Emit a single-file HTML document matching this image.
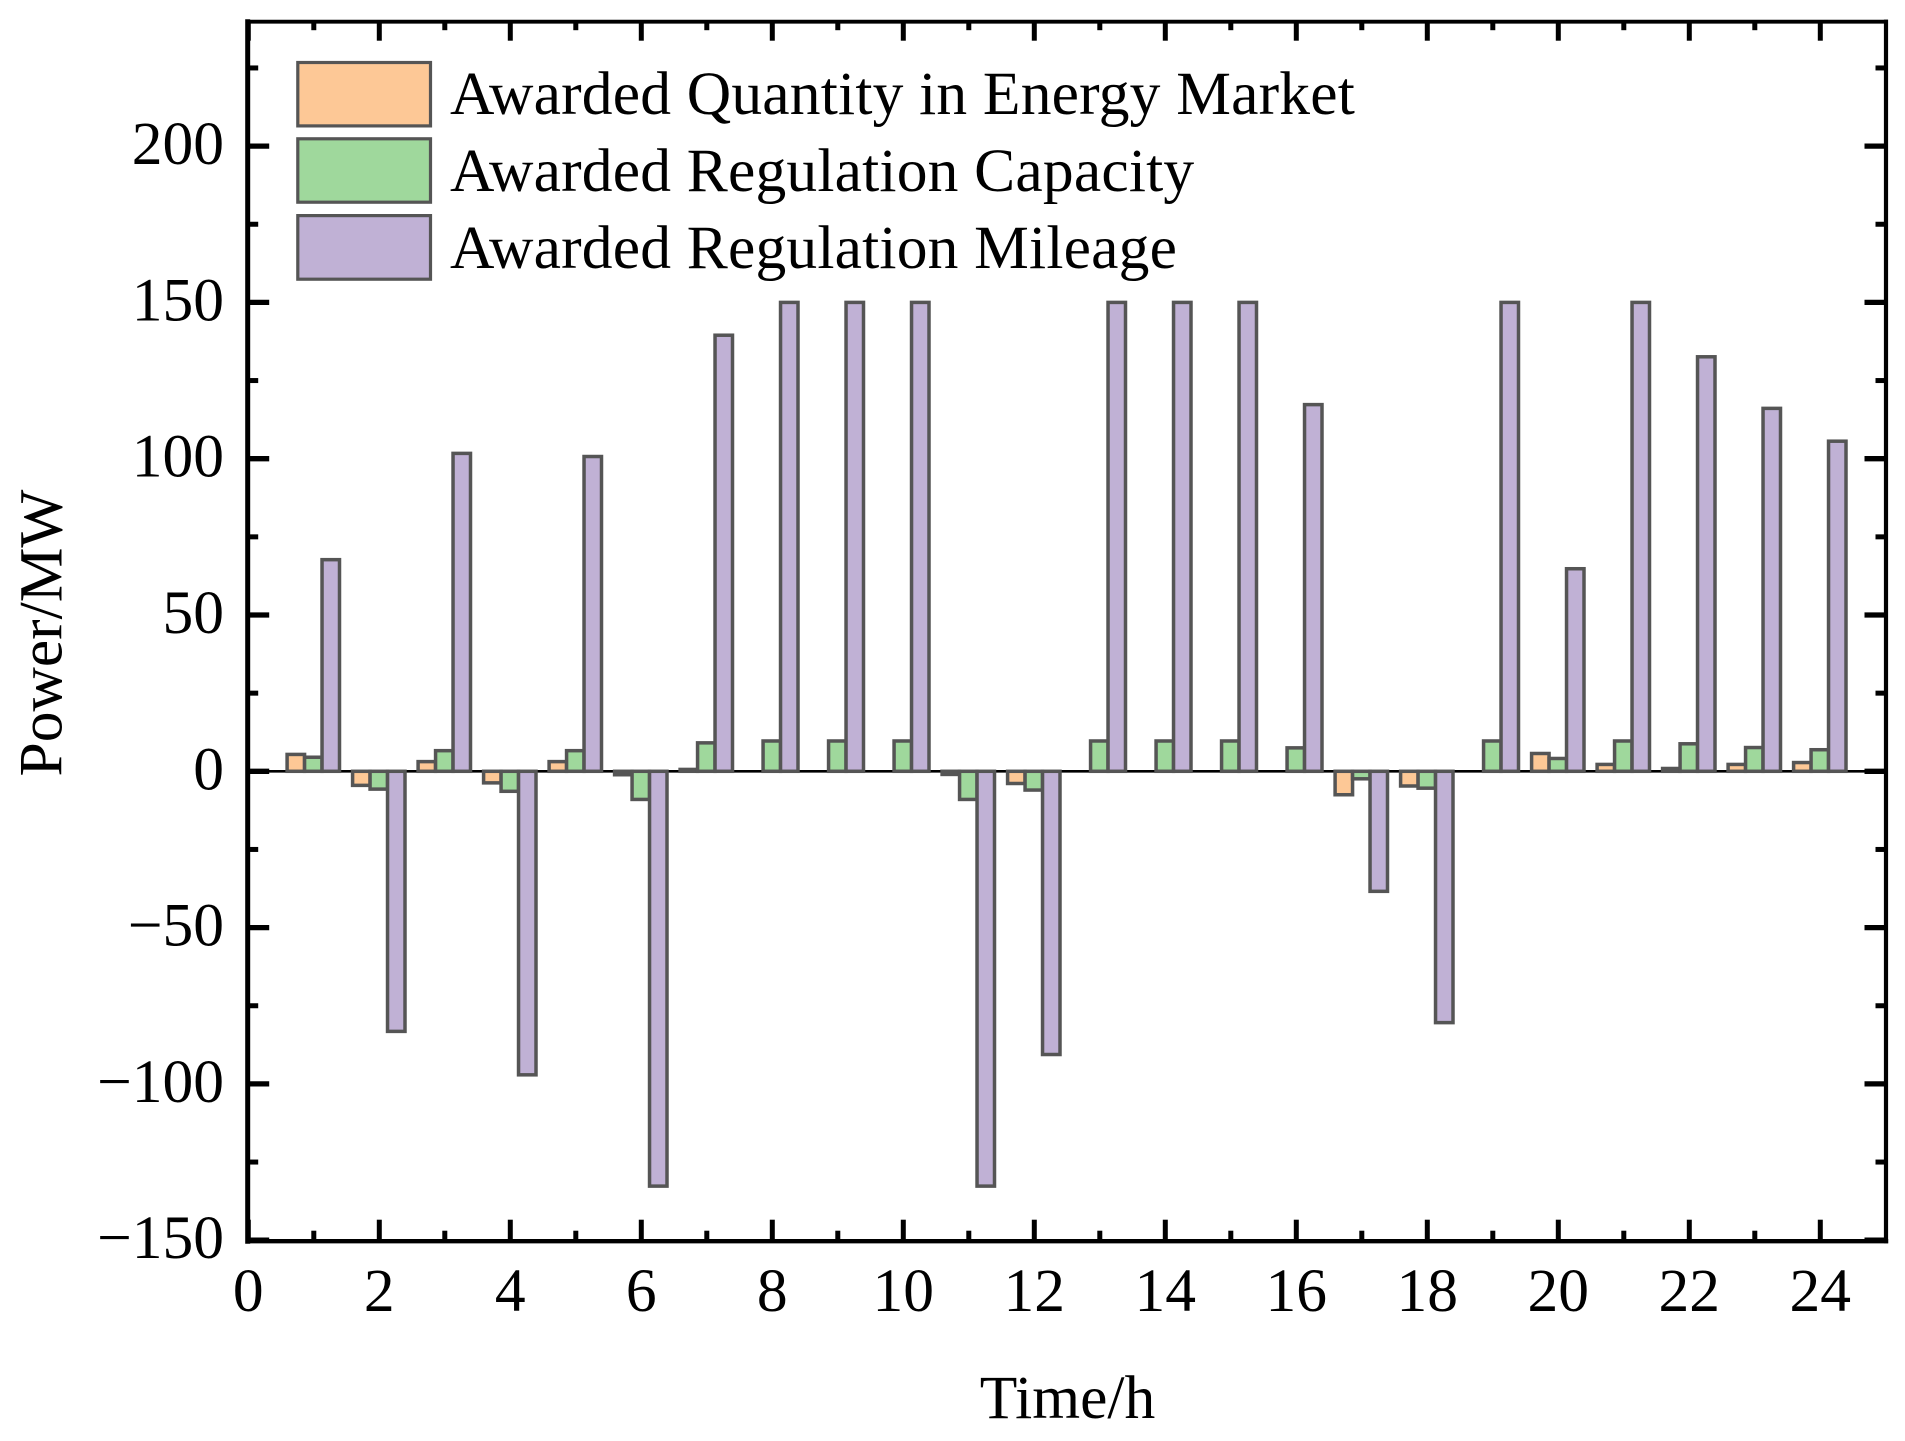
<!DOCTYPE html>
<html lang="en">
<head>
<meta charset="utf-8">
<title>Awarded Power by Hour</title>
<style>
  html, body { margin: 0; padding: 0; background: #fff; }
  svg { display: block; }
  text { font-family: "Liberation Serif", serif; fill: #000; }
</style>
</head>
<body>
<svg id="chart" xmlns="http://www.w3.org/2000/svg" width="1905" height="1441" viewBox="0 0 1905 1441">
  <rect x="0" y="0" width="1905" height="1441" fill="#fff"/>
  <g id="zero"></g>
  <g id="bars"></g>
  <g id="ticks"></g>
  <g stroke="#000" stroke-linecap="square">
    <line x1="247.7" y1="21.7" x2="1886" y2="21.7" stroke-width="3.8"/>
    <line x1="247.7" y1="1241.2" x2="1886" y2="1241.2" stroke-width="4.4"/>
    <line x1="247.7" y1="21.7" x2="247.7" y2="1241.2" stroke-width="5"/>
    <line x1="1886" y1="21.7" x2="1886" y2="1241.2" stroke-width="4.2"/>
  </g>
  <g font-size="61.5" letter-spacing="0.2">
    <rect x="297.8" y="62.5" width="132.7" height="63.4" fill="#FDC896" stroke="#555" stroke-width="3.2"/>
    <rect x="297.8" y="138.8" width="132.7" height="63.4" fill="#9FD89C" stroke="#555" stroke-width="3.2"/>
    <rect x="297.8" y="215.6" width="132.7" height="63.6" fill="#C0B1D5" stroke="#555" stroke-width="3.2"/>
    <text x="450" y="114">Awarded Quantity in Energy Market</text>
    <text x="450" y="191">Awarded Regulation Capacity</text>
    <text x="450" y="268">Awarded Regulation Mileage</text>
  </g>
  <text x="1067.5" y="1418" font-size="61.5" text-anchor="middle">Time/h</text>
  <text transform="translate(61.5 633) rotate(-90)" font-size="61.5" text-anchor="middle">Power/MW</text>
</svg>
<script>
const hours = [1,2,3,4,5,6,7,8,9,10,11,12,13,14,15,16,17,18,19,20,21,22,23,24];
const energyQuantity = [5.4,-4.5,3.1,-3.7,3.1,-1.1,0.6,0,0,0,-1,-3.9,0,0,0,0,-7.5,-4.7,0,5.7,2.2,0.9,2.2,2.8];
const regulationCapacity = [4.5,-5.7,6.6,-6.4,6.6,-9,9.1,9.7,9.7,9.7,-9,-6,9.7,9.7,9.7,7.5,-2.4,-5.4,9.7,4.1,9.7,8.8,7.6,6.9];
const regulationMileage = [67.7,-83.2,101.7,-97.1,100.7,-132.7,139.5,150,150,150,-132.7,-90.6,150,150,150,117.3,-38.4,-80.4,150,64.8,150,132.6,116.1,105.6];
const xMajorTickLabels = ["0","2","4","6","8","10","12","14","16","18","20","22","24"];
const xMinorTickValues = [1,3,5,7,9,11,13,15,17,19,21,23];
const yMajorTickValues = [-150,-100,-50,0,50,100,150,200];
const yMajorTickLabels = ["\u2212150","\u2212100","\u221250","0","50","100","150","200"];
const yMinorTickValues = [-125,-75,-25,25,75,125,175,225];

const NS = "http://www.w3.org/2000/svg";
const xScale = function (h) { return 248.3 + 65.5 * h; };
const yScale = function (v) { return 771.3 - 3.126 * v; };
const barLayer = document.getElementById("bars");
const tickLayer = document.getElementById("ticks");
const zeroLayer = document.getElementById("zero");
const svg = document.getElementById("chart");
const BAR_WIDTH = 0.2667;
const LEFT = 247.7, RIGHT = 1886, TOP = 21.7, BOTTOM = 1241.2;

function makeLine(x1, y1, x2, y2, width) {
  const l = document.createElementNS(NS, "line");
  l.setAttribute("x1", x1);
  l.setAttribute("y1", y1);
  l.setAttribute("x2", x2);
  l.setAttribute("y2", y2);
  l.setAttribute("stroke", "#000");
  l.setAttribute("stroke-width", width);
  return l;
}

const zeroLine = makeLine(LEFT, yScale(0), RIGHT, yScale(0), 2.6);


zeroLayer.appendChild(zeroLine);

function drawSeries(values, offset, fill, seriesName) {
  values.forEach(function (v, i) {
    const x0 = xScale(hours[i] + offset * BAR_WIDTH - BAR_WIDTH / 2) - 0.5;
    const x1 = xScale(hours[i] + offset * BAR_WIDTH + BAR_WIDTH / 2) - 0.5;
    const y0 = yScale(0);
    const yv = yScale(v);
    const r = document.createElementNS(NS, "rect");
    r.setAttribute("x", x0);
    r.setAttribute("y", Math.min(y0, yv));
    r.setAttribute("width", x1 - x0);
    r.setAttribute("height", Math.abs(yv - y0));
    r.setAttribute("fill", fill);
    r.setAttribute("stroke", "#555");
    r.setAttribute("stroke-width", "3.5");
    
    
    barLayer.appendChild(r);
  });
}
drawSeries(energyQuantity, -1, "#FDC896", "energy-quantity");
drawSeries(regulationCapacity, 0, "#9FD89C", "regulation-capacity");
drawSeries(regulationMileage, 1, "#C0B1D5", "regulation-mileage");

function addTick(line, name) {
  
  
  tickLayer.appendChild(line);
}
function addLabel(x, y, str, anchor, name) {
  const t = document.createElementNS(NS, "text");
  t.setAttribute("x", x);
  t.setAttribute("y", y);
  t.setAttribute("font-size", "61.5");
  t.setAttribute("text-anchor", anchor);
  t.textContent = str;
  
  
  svg.appendChild(t);
}

xMajorTickLabels.forEach(function (label) {
  const x = xScale(Number(label));
  addTick(makeLine(x, BOTTOM, x, BOTTOM - 21.5, 5), 'x-major-tick-' + label);
  addTick(makeLine(x, TOP, x, TOP + 19, 5), 'x-major-tick-top-' + label);
  addLabel(x, 1311, label, "middle", 'x-tick-label-' + label);
});
xMinorTickValues.forEach(function (h) {
  const x = xScale(h);
  addTick(makeLine(x, BOTTOM, x, BOTTOM - 10.5, 5), 'x-minor-tick-' + h);
  addTick(makeLine(x, TOP, x, TOP + 8.5, 5), 'x-minor-tick-top-' + h);
});
yMajorTickValues.forEach(function (v, i) {
  const y = yScale(v);
  addTick(makeLine(LEFT, y, LEFT + 21.5, y, 5.3), 'y-major-tick-' + v);
  addTick(makeLine(RIGHT, y, RIGHT - 21.5, y, 5.3), 'y-major-tick-right-' + v);
  addLabel(224, y + 18, yMajorTickLabels[i], "end", 'y-tick-label-' + v);
});
yMinorTickValues.forEach(function (v) {
  const y = yScale(v);
  addTick(makeLine(LEFT, y, LEFT + 10.5, y, 5), 'y-minor-tick-' + v);
  addTick(makeLine(RIGHT, y, RIGHT - 10.5, y, 5), 'y-minor-tick-right-' + v);
});
</script>
</body>
</html>
